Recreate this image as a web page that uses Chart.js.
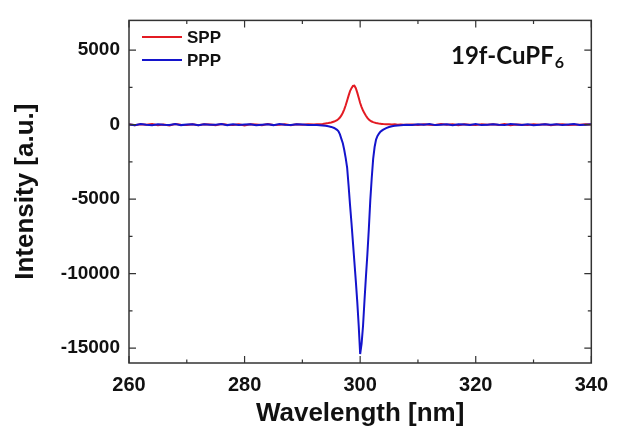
<!DOCTYPE html>
<html>
<head>
<meta charset="utf-8">
<script src="https://cdn.jsdelivr.net/npm/chart.js@4"></script>
<style>
  body { margin: 0; background: #fff; }
  canvas { display: block; }
</style>
</head>
<body>
<canvas id="specChart" width="618" height="430"></canvas>
<script>
// wavelength axis (nm), denser around the resonance
const wavelength = [
    260, 261, 262, 263, 264, 265, 266, 267, 268, 269, 270, 271, 272, 273, 274, 275,
    276, 277, 278, 279, 280, 281, 282, 283, 284, 285, 286, 287, 288, 289, 290, 291,
    292, 292.5, 293, 293.5, 294, 294.5, 295, 295.5,
    296, 296.25, 296.5, 296.75, 297, 297.25, 297.5, 297.75, 298, 298.25, 298.5, 298.75,
    299, 299.25, 299.5, 299.75, 300, 300.25, 300.5, 300.75, 301, 301.25, 301.5, 301.75,
    302, 302.25, 302.5, 302.75, 303, 303.25, 303.5, 303.75, 304,
    304.5, 305, 305.5, 306, 306.5, 307, 307.5, 308,
    309, 310, 311, 312, 313, 314, 315, 316, 317, 318, 319, 320, 321, 322, 323, 324,
    325, 326, 327, 328, 329, 330, 331, 332, 333, 334, 335, 336, 337, 338, 339, 340
];

const sppValues = [
    30, -40, 20, -10, 50, -30, 10, -50, 40, 0, -20, 30, -40, 20, 10, -30,
    40, -10, -20, 30, -50, 20, 10, -30, 40, -20, 0, 30, -40, 20, -10, 30,
    10, 20, 30, 50, 80, 110, 150, 210,
    310, 380, 480, 620, 800, 1030, 1300, 1620, 1950, 2250, 2450, 2600,
    2620, 2450, 2150, 1800, 1450, 1180, 950, 760, 600, 460, 350, 270,
    210, 170, 140, 110, 90, 70, 60, 50, 40,
    30, 20, 10, 20, 0, 10, -10, 0,
    10, -30, 20, 0, -20, 40, -10, 30, -40, 20, 0, -30, 30, -10, 20, -20,
    40, -30, 10, 0, -20, 30, -10, 20, -40, 10, 30, -20, 0, -10, 20, 10
];

const pppValues = [
    20, -30, 40, -10, -40, 30, 0, -20, 50, -30, 10, 20, -40, 30, -10, 0,
    40, -30, 20, -20, 10, 30, -40, 0, 20, -30, 40, -10, -20, 30, 10, -30,
    -20, -30, -40, -60, -80, -110, -150, -220,
    -350, -450, -650, -950, -1250, -1700, -2250, -2900, -4100, -5400, -6600, -7900,
    -9200, -10500, -11900, -13500, -15400, -14700, -13500, -11800, -10200, -8700, -7000, -5100,
    -3600, -2300, -1500, -1000, -750, -600, -480, -400, -330,
    -230, -160, -110, -80, -50, -40, -20, -10,
    -20, 30, -10, 40, -30, 0, 20, -40, 30, 10, -20, 40, -30, 0, 20, -10,
    -30, 40, 10, -20, 30, -40, 0, 20, -10, 30, -30, 10, 40, -20, 0, 20
];

const xTicks = [260, 280, 300, 320, 340];
const xMinorTicks = [270, 290, 310, 330];
const yTicks = [-15000, -10000, -5000, 0, 5000];
const yMinorTicks = [-12500, -7500, -2500, 2500];

const toPoints = vals => vals.map((v, i) => ({x: wavelength[i], y: v}));

// frame with inward ticks on all four sides
const frameTicks = {
    id: 'frameTicks',
    afterDatasetsDraw(chart) {
        const {ctx, chartArea: a, scales} = chart;
        ctx.save();
        ctx.strokeStyle = '#333';
        ctx.lineWidth = 1.5;
        ctx.strokeRect(a.left, a.top, a.right - a.left, a.bottom - a.top);
        ctx.lineWidth = 1.2;
        ctx.beginPath();
        const xt = (vals, len) => vals.forEach(v => {
            const px = scales.x.getPixelForValue(v);
            ctx.moveTo(px, a.bottom); ctx.lineTo(px, a.bottom - len);
            ctx.moveTo(px, a.top); ctx.lineTo(px, a.top + len);
        });
        const yt = (vals, len) => vals.forEach(v => {
            const py = scales.y.getPixelForValue(v);
            ctx.moveTo(a.left, py); ctx.lineTo(a.left + len, py);
            ctx.moveTo(a.right, py); ctx.lineTo(a.right - len, py);
        });
        xt(xTicks, 7); xt(xMinorTicks, 3.5);
        yt(yTicks, 7); yt(yMinorTicks, 3.5);
        ctx.stroke();
        ctx.restore();
    }
};

// legend + sample label inside the plot
const insideLabels = {
    id: 'insideLabels',
    afterDraw(chart) {
        const {ctx} = chart;
        ctx.save();
        ctx.font = 'bold 17px "Liberation Sans", Arial, sans-serif';
        ctx.textBaseline = 'middle';
        ctx.fillStyle = '#111';
        chart.data.datasets.forEach((ds, i) => {
            const y = 37 + i * 23;
            ctx.strokeStyle = ds.borderColor;
            ctx.lineWidth = 2.2;
            ctx.beginPath();
            ctx.moveTo(142, y); ctx.lineTo(182, y);
            ctx.stroke();
            ctx.fillText(ds.label, 187, y + 1);
        });
        ctx.font = 'bold 24px Lato, "Open Sans", sans-serif';
        ctx.textBaseline = 'alphabetic';
        ctx.fillText('19f-CuPF', 451, 64);
        const w = ctx.measureText('19f-CuPF').width;
        ctx.font = 'bold 16px Lato, "Open Sans", sans-serif';
        ctx.fillText('6', 451 + w + 1, 68);
        ctx.restore();
    }
};

const ctx = document.getElementById('specChart').getContext('2d');
const specChart = new Chart(ctx, {
    type: 'line',
    data: {
        datasets: [{
            label: 'SPP',
            data: toPoints(sppValues),
            borderColor: '#e31b23',
            borderWidth: 2,
            pointRadius: 0,
            tension: 0,
            order: 1
        }, {
            label: 'PPP',
            data: toPoints(pppValues),
            borderColor: '#1414cc',
            borderWidth: 2,
            pointRadius: 0,
            tension: 0,
            order: 0
        }]
    },
    options: {
        responsive: false,
        animation: false,
        layout: { padding: { top: 16, right: 18, left: 0, bottom: 0 } },
        plugins: { legend: { display: false }, tooltip: { enabled: false } },
        scales: {
            x: {
                type: 'linear',
                min: 260,
                max: 340,
                afterBuildTicks: s => { s.ticks = xTicks.map(v => ({value: v})); },
                afterFit: s => { s.height = 67; },
                grid: { display: false, drawTicks: false },
                border: { display: false },
                ticks: {
                    color: '#111',
                    padding: 10,
                    maxRotation: 0,
                    callback: v => String(v),
                    font: { family: '"Liberation Sans", Arial, sans-serif', size: 20, weight: 'bold' }
                },
                title: {
                    display: true,
                    text: 'Wavelength [nm]',
                    color: '#111',
                    padding: { top: 0, bottom: 3 },
                    font: { family: '"Liberation Sans", Arial, sans-serif', size: 26, weight: 'bold', lineHeight: 1 }
                }
            },
            y: {
                min: -16000,
                max: 7000,
                afterBuildTicks: s => { s.ticks = yTicks.map(v => ({value: v})); },
                afterFit: s => { s.width = 129; },
                grid: { display: false, drawTicks: false },
                border: { display: false },
                ticks: {
                    color: '#111',
                    padding: 9,
                    callback: v => String(v),
                    font: { family: '"Liberation Sans", Arial, sans-serif', size: 19, weight: 'bold' }
                },
                title: {
                    display: true,
                    text: 'Intensity [a.u.]',
                    color: '#111',
                    padding: { top: 13, bottom: 0 },
                    font: { family: '"Liberation Sans", Arial, sans-serif', size: 26, weight: 'bold', lineHeight: 1 }
                }
            }
        }
    },
    plugins: [frameTicks, insideLabels]
});
</script>
</body>
</html>
